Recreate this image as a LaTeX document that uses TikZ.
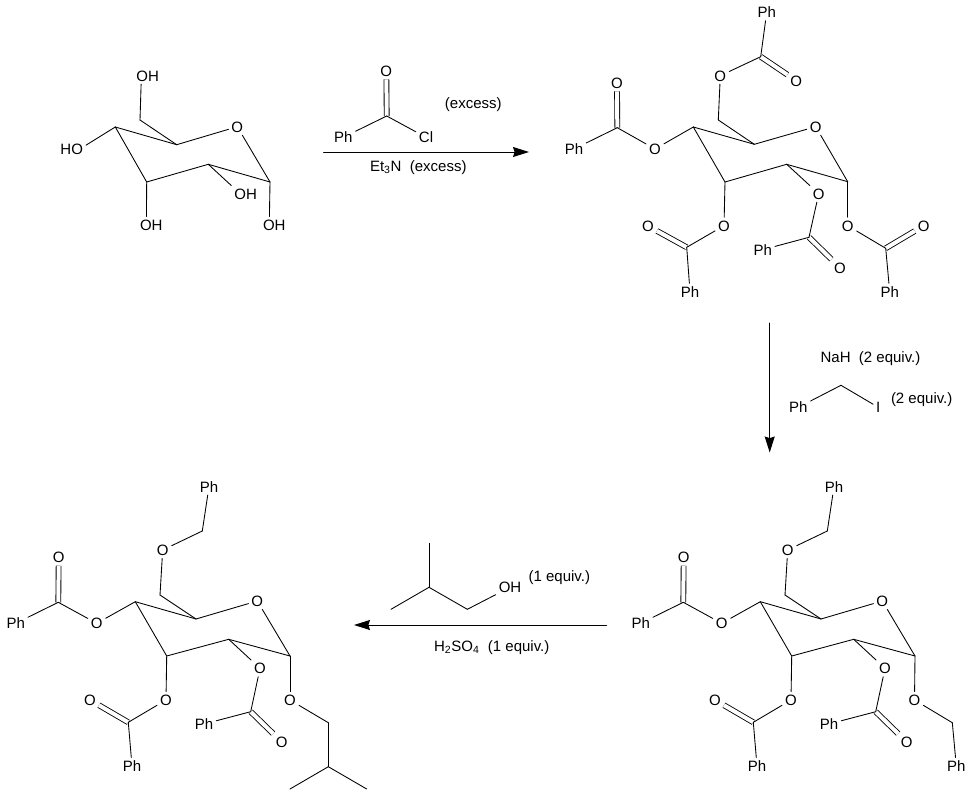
\documentclass[tikz,border=0pt]{standalone}
\usepackage{fontspec}
\setmainfont{Liberation Sans}
\usetikzlibrary{arrows.meta}

\begin{document}
\begin{tikzpicture}[x=0.75pt,y=-0.75pt,line cap=round,line width=0.65pt,font=\fontsize{11.25}{13}\selectfont]
	\tikzstyle{atom}=[inner sep=2pt,text height=8pt,text depth=0pt]
	\tikzstyle{reagent}=[inner sep=0pt]
	\tikzstyle{dbl}=[double,double distance=3pt,line cap=butt]
	\tikzstyle{rxn}=[-{Stealth[length=12pt,width=7.5pt,inset=1.2pt]},line width=0.75pt]
	\useasboundingbox (0,0) rectangle (978,799);

	% glucose
	\coordinate (a1) at (270,182);
	\coordinate (a2) at (208.3,164.3);
	\coordinate (a3) at (146.7,182);
	\coordinate (a4) at (115.3,127);
	\coordinate (a5) at (176.7,144.7);
	\coordinate (a6) at (140,120);
	\node[atom](aO) at (237.3,126.7) {O};
	\node[atom](aOH1) at (274.3,225) {OH};
	\node[atom](aOH2) at (245.7,194) {OH};
	\node[atom](aOH3) at (151.3,225) {OH};
	\node[atom](aOH4) at (71.7,149) {HO};
	\node[atom](aOH6) at (147.7,75.7) {OH};
	\draw (a1) -- (aO);
	\draw (aO) -- (a5);
	\draw (a5) -- (a4);
	\draw (a4) -- (a3);
	\draw (a3) -- (a2);
	\draw (a2) -- (a1);
	\draw (a5) -- (a6);
	\draw (a6) -- (aOH6.232);
	\draw (a1) -- (aOH1.120);
	\draw (a2) -- (aOH2.north west);
	\draw (a3) -- (aOH3.120);
	\draw (a4) -- (aOH4.15);

	% benzoyl chloride
	\coordinate (r1) at (386.7,116);
	\node[atom](r1O) at (386.3,71) {O};
	\node[atom](r1Ph) at (343.3,137.3) {Ph};
	\node[atom](r1Cl) at (426,137.3) {Cl};
	\draw[dbl] (r1) -- (r1O);
	\draw (r1) -- (r1Ph);
	\draw (r1) -- (r1Cl);
	\node[reagent](r1a) at (473.3,104.5) {(excess)};
	\node[reagent](r1b) at (418.3,167.5) {Et\textsubscript{3}N\ \ (excess)};
	\coordinate (s1) at (323.5,152);
	\coordinate (e1) at (529,152);
	\draw[rxn] (s1) -- (e1);

	% perbenzoate
	\coordinate (b1) at (847.7,181.7);
	\coordinate (b2) at (786.7,164.3);
	\coordinate (b3) at (725,182);
	\coordinate (b4) at (693.3,127);
	\coordinate (b5) at (754.3,144.3);
	\coordinate (b6) at (718.3,120);
	\node[atom](bO) at (815.7,126.7) {O};
	\node[atom](bO1) at (847.7,225.7) {O};
	\node[atom](bO2) at (818.7,193.7) {O};
	\node[atom](bO3) at (724,225.7) {O};
	\node[atom](bO4) at (655,149) {O};
	\node[atom](bO6) at (720.3,75.7) {O};
	\coordinate (b1c) at (885.7,248.3);
	\coordinate (b2c) at (809,237.3);
	\coordinate (b3c) at (686.7,247.3);
	\coordinate (b4c) at (617.3,127.7);
	\coordinate (b6c) at (760.7,56.7);
	\node[atom](b1d) at (923.7,225.7) {O};
	\node[atom](b2d) at (840,267.7) {O};
	\node[atom](b3d) at (648,226) {O};
	\node[atom](b4d) at (617,83) {O};
	\node[atom](b6d) at (796.3,80.7) {O};
	\node[atom](b1Ph) at (889.7,291.7) {Ph};
	\node[atom](b2Ph) at (762.7,249.7) {Ph};
	\node[atom](b3Ph) at (690,291.7) {Ph};
	\node[atom](b4Ph) at (574,149) {Ph};
	\node[atom](b6Ph) at (766.7,12.3) {Ph};
	\draw[dbl] (b1c) -- (b1d);
	\draw[dbl] (b2c) -- (b2d);
	\draw[dbl] (b3c) -- (b3d);
	\draw[dbl] (b4c) -- (b4d);
	\draw[dbl] (b6c) -- (b6d);
	\draw (b1) -- (bO);
	\draw (bO) -- (b5);
	\draw (b5) -- (b4);
	\draw (b4) -- (b3);
	\draw (b3) -- (b2);
	\draw (b2) -- (b1);
	\draw (b5) -- (b6);
	\draw (b6) -- (bO6);
	\draw (bO6) -- (b6c);
	\draw (b6c) -- (b6Ph);
	\draw (b4) -- (bO4);
	\draw (bO4) -- (b4c);
	\draw (b4c) -- (b4Ph);
	\draw (b3) -- (bO3);
	\draw (bO3) -- (b3c);
	\draw (b3c) -- (b3Ph);
	\draw (b2) -- (bO2);
	\draw (bO2) -- (b2c);
	\draw (b2c) -- (b2Ph);
	\draw (b1) -- (bO1);
	\draw (bO1) -- (b1c);
	\draw (b1c) -- (b1Ph);

	% NaH, benzyl iodide
	\coordinate (r2) at (841,385.3);
	\node[reagent](r2a) at (870.5,358.3) {NaH\ \ (2 equiv.)};
	\node[atom](r2Ph) at (798.3,407.3) {Ph};
	\node[atom](r2I) at (878.3,407.3) {I};
	\node[reagent](r2b) at (921.7,400) {(2 equiv.)};
	\draw (r2Ph) -- (r2);
	\draw (r2) -- (r2I);
	\coordinate (s2) at (769.7,323);
	\coordinate (e2) at (769.7,452.5);
	\draw[rxn] (s2) -- (e2);

	% benzyl ether
	\coordinate (c1) at (915,656);
	\coordinate (c2) at (853.7,639.3);
	\coordinate (c3) at (791.7,656);
	\coordinate (c4) at (760.3,601.7);
	\coordinate (c5) at (821,619);
	\coordinate (c6) at (785,595);
	\node[atom](cO) at (882.3,601) {O};
	\node[atom](cO1) at (914.5,700) {O};
	\node[atom](cO2) at (885,668.3) {O};
	\node[atom](cO3) at (791,700) {O};
	\node[atom](cO4) at (721.7,623.3) {O};
	\node[atom](cO6) at (787.7,550) {O};
	\coordinate (c1b) at (952.3,722.7);
	\coordinate (c2c) at (875.7,711.7);
	\coordinate (c3c) at (753.3,722.3);
	\coordinate (c4c) at (683.3,602.3);
	\coordinate (c6b) at (827.3,531);
	\node[atom](c2d) at (906.7,742) {O};
	\node[atom](c3d) at (715,700) {O};
	\node[atom](c4d) at (683.7,557.3) {O};
	\node[atom](c1Ph) at (956.3,766) {Ph};
	\node[atom](c2Ph) at (829,724) {Ph};
	\node[atom](c3Ph) at (757,766) {Ph};
	\node[atom](c4Ph) at (640.7,623.3) {Ph};
	\node[atom](c6Ph) at (834,486.7) {Ph};
	\draw[dbl] (c2c) -- (c2d);
	\draw[dbl] (c3c) -- (c3d);
	\draw[dbl] (c4c) -- (c4d);
	\draw (c1) -- (cO);
	\draw (cO) -- (c5);
	\draw (c5) -- (c4);
	\draw (c4) -- (c3);
	\draw (c3) -- (c2);
	\draw (c2) -- (c1);
	\draw (c5) -- (c6);
	\draw (c6) -- (cO6);
	\draw (cO6) -- (c6b);
	\draw (c6b) -- (c6Ph);
	\draw (c4) -- (cO4);
	\draw (cO4) -- (c4c);
	\draw (c4c) -- (c4Ph);
	\draw (c3) -- (cO3);
	\draw (cO3) -- (c3c);
	\draw (c3c) -- (c3Ph);
	\draw (c2) -- (cO2);
	\draw (cO2) -- (c2c);
	\draw (c2c) -- (c2Ph);
	\draw (c1) -- (cO1);
	\draw (cO1) -- (c1b);
	\draw (c1b) -- (c1Ph);

	% isobutanol
	\coordinate (r3) at (429,587.3);
	\coordinate (r3a) at (429,543.3);
	\coordinate (r3b) at (391,609.3);
	\coordinate (r3c) at (467.3,609.3);
	\node[atom](r3OH) at (510,587.3) {OH};
	\node[reagent](r3d) at (559.3,578) {(1 equiv.)};
	\node[reagent](r3e) at (491.7,647.5) {H\textsubscript{2}SO\textsubscript{4}\ \ (1 equiv.)};
	\draw (r3a) -- (r3);
	\draw (r3b) -- (r3);
	\draw (r3) -- (r3c);
	\draw (r3c) -- (r3OH);
	\coordinate (s3) at (606.5,625);
	\coordinate (e3) at (354,625);
	\draw[rxn] (s3) -- (e3);

	% isobutyl glycoside
	\coordinate (d1) at (290,656);
	\coordinate (d2) at (228.7,639.3);
	\coordinate (d3) at (166.7,656);
	\coordinate (d4) at (135.3,601.7);
	\coordinate (d5) at (196,619);
	\coordinate (d6) at (160,595);
	\node[atom](dO) at (257.3,601) {O};
	\node[atom](dO1) at (290,700) {O};
	\node[atom](dO2) at (260,668.3) {O};
	\node[atom](dO3) at (166,700) {O};
	\node[atom](dO4) at (96.7,623.3) {O};
	\node[atom](dO6) at (162.7,550) {O};
	\coordinate (d1b) at (328.3,722.7);
	\coordinate (d1e) at (328.3,766.7);
	\coordinate (d1f) at (290,789);
	\coordinate (d1g) at (366.7,789);
	\coordinate (d2c) at (250.7,711.7);
	\coordinate (d3c) at (128.3,722.3);
	\coordinate (d4c) at (58.3,602.3);
	\coordinate (d6b) at (202.3,531);
	\node[atom](d2d) at (281.7,742) {O};
	\node[atom](d3d) at (90,700) {O};
	\node[atom](d4d) at (58.7,557.3) {O};
	\node[atom](d2Ph) at (204,724) {Ph};
	\node[atom](d3Ph) at (132,766) {Ph};
	\node[atom](d4Ph) at (15.7,623.3) {Ph};
	\node[atom](d6Ph) at (209,486.7) {Ph};
	\draw[dbl] (d2c) -- (d2d);
	\draw[dbl] (d3c) -- (d3d);
	\draw[dbl] (d4c) -- (d4d);
	\draw (d1) -- (dO);
	\draw (dO) -- (d5);
	\draw (d5) -- (d4);
	\draw (d4) -- (d3);
	\draw (d3) -- (d2);
	\draw (d2) -- (d1);
	\draw (d5) -- (d6);
	\draw (d6) -- (dO6);
	\draw (dO6) -- (d6b);
	\draw (d6b) -- (d6Ph);
	\draw (d4) -- (dO4);
	\draw (dO4) -- (d4c);
	\draw (d4c) -- (d4Ph);
	\draw (d3) -- (dO3);
	\draw (dO3) -- (d3c);
	\draw (d3c) -- (d3Ph);
	\draw (d2) -- (dO2);
	\draw (dO2) -- (d2c);
	\draw (d2c) -- (d2Ph);
	\draw (d1) -- (dO1);
	\draw (dO1) -- (d1b);
	\draw (d1b) -- (d1e);
	\draw (d1e) -- (d1f);
	\draw (d1e) -- (d1g);
\end{tikzpicture}
\end{document}
